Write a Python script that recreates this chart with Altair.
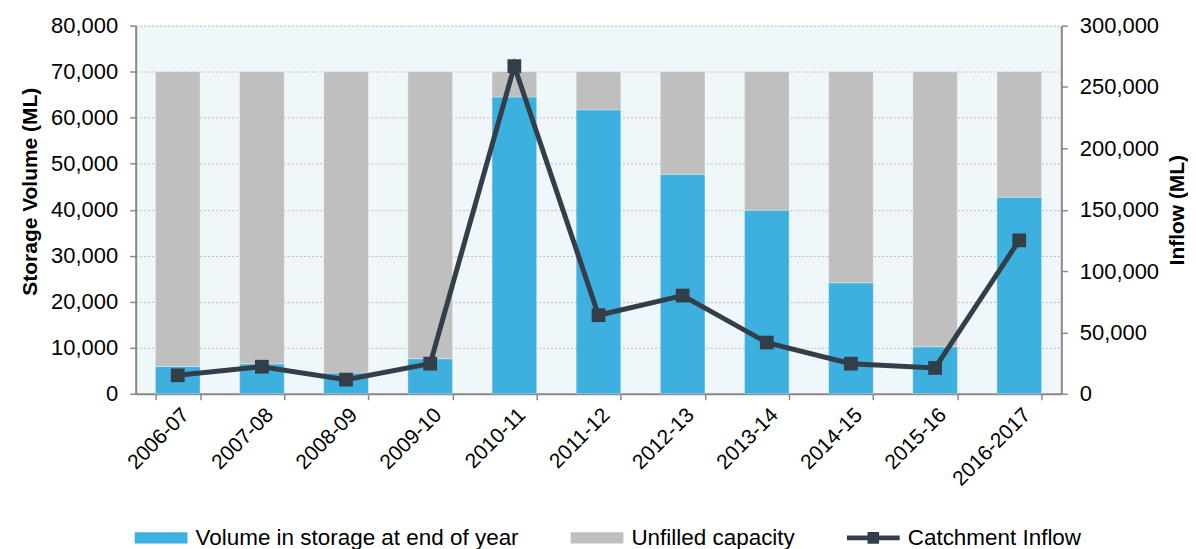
import altair as alt
import pandas as pd

years = ["2006-07", "2007-08", "2008-09", "2009-10", "2010-11", "2011-12",
         "2012-13", "2013-14", "2014-15", "2015-16", "2016-2017"]
volume = [5900, 6500, 4500, 7600, 64500, 61700, 47700, 39900, 24100, 10200, 42700]
capacity = 70000
inflow = [15000, 22000, 11500, 24500, 267000, 64000, 80000, 41700, 24500, 21000, 125000]

s_vol = "Volume in storage at end of year"
s_unf = "Unfilled capacity"
s_inf = "Catchment Inflow"
series = [s_vol, s_unf, s_inf]
colors = ["#3DB0DF", "#BFBFBF", "#333E48"]

rect_path = "M-1,-0.21H1V0.21H-1Z"
line_path = "M-1,-0.09H-0.22V-0.22H0.22V-0.09H1V0.09H0.22V0.22H-0.22V0.09H-1Z"

bars = pd.DataFrame(
    [{"year": y, "series": s_vol, "value": v, "ord": 0} for y, v in zip(years, volume)]
    + [{"year": y, "series": s_unf, "value": capacity - v, "ord": 1} for y, v in zip(years, volume)]
)
line = pd.DataFrame({"year": years, "inflow": inflow, "series": s_inf})

FONT = "Liberation Sans"

color_scale = alt.Scale(domain=series, range=colors)
shape_scale = alt.Scale(domain=series, range=[rect_path, rect_path, line_path])

legend = alt.Legend(
    title=None, orient="none", legendX=-1, legendY=487, direction="horizontal",
    columns=3, columnPadding=52, labelFontSize=22.5, labelFont=FONT, labelColor="#000000",
    symbolSize=2800, symbolStrokeWidth=0, labelLimit=500, labelOffset=8,
)

x_enc = alt.X("year:N", sort=years, title=None,
              scale=alt.Scale(paddingInner=0.47, paddingOuter=0.235),
              axis=alt.Axis(labelAngle=-45, tickBand="extent"))

y_left = alt.Y("value:Q", stack="zero", title="Storage Volume (ML)",
               scale=alt.Scale(domain=[0, 80000]),
               axis=alt.Axis(values=list(range(0, 80001, 10000)), format=",.0f", grid=True,
                             gridDash=[2, 2], gridColor="#BBBBBB", gridWidth=1,
                             titleY=166))

y_right = alt.Y("inflow:Q", title="Inflow (ML)", scale=alt.Scale(domain=[0, 300000]),
                axis=alt.Axis(orient="right", values=list(range(0, 300001, 50000)),
                              format=",.0f", grid=False, titleAngle=270,
                              titleBaseline="top", titlePadding=8))

bar_layer = alt.Chart(bars).mark_bar(stroke="white", strokeWidth=0.5, strokeOpacity=0.6).encode(
    x=x_enc,
    y=y_left,
    color=alt.Color("series:N", scale=color_scale, legend=legend),
    order=alt.Order("ord:Q"),
)

line_layer = alt.Chart(line).mark_line(strokeWidth=5).encode(
    x=x_enc,
    y=y_right,
    color=alt.Color("series:N", scale=color_scale, legend=legend),
)
pt_layer = alt.Chart(line).mark_point(size=190, opacity=1, filled=True, shape="square").encode(
    x=x_enc,
    y=y_right,
    color=alt.Color("series:N", scale=color_scale, legend=legend),
)
# invisible layer that only supplies the legend symbol shapes
legend_layer = alt.Chart(line).mark_point(size=0, filled=True).encode(
    x=x_enc,
    y=y_right,
    color=alt.Color("series:N", scale=color_scale, legend=legend),
    shape=alt.Shape("series:N", scale=shape_scale, legend=legend),
)

right = alt.layer(line_layer, pt_layer, legend_layer)

chart = alt.layer(bar_layer, right).resolve_scale(y="independent").properties(
    width=928, height=369,
    padding={"left": 11, "top": 6, "right": 0, "bottom": 0},
    background="white",
).configure(
    font=FONT,
).configure_view(
    fill="#EFF7FB", stroke=None
).configure_axis(
    labelFont=FONT, labelFontSize=22, labelColor="#000000",
    titleFont=FONT, titleFontSize=21, titleFontWeight="bold", titleColor="#000000",
    domainColor="#888888", tickColor="#888888", domainWidth=2, tickWidth=1.5, tickSize=6,
    titlePadding=10, labelPadding=12,
).configure_axisX(
    labelFontSize=21, labelPadding=4,
).configure_legend(
    symbolType=rect_path,
)

chart.save("out.html", embed_options={"renderer": "svg", "actions": False})
